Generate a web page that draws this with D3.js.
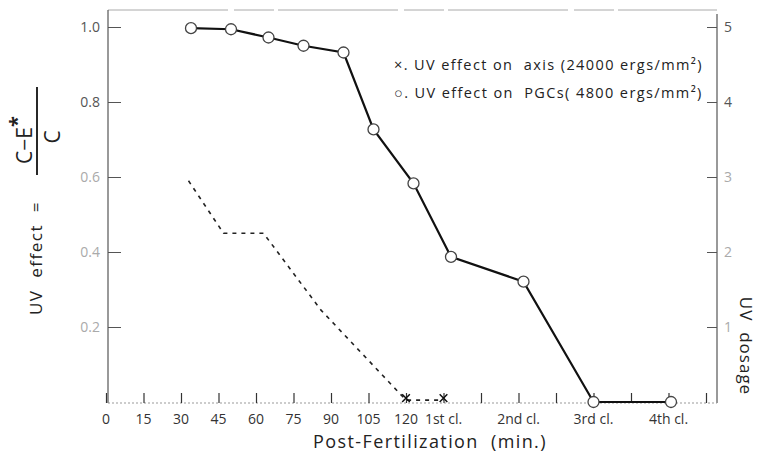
<!DOCTYPE html>
<html>
<head>
<meta charset="utf-8">
<script src="https://cdn.jsdelivr.net/npm/d3@7"></script>
<style>
	body { margin: 0; background: #fff; }
	text { font-family: "Open Sans", "Liberation Sans", sans-serif; fill: #222; white-space: pre; }
	.tick-label { font-size: 14px; fill: #666; }
	.legend-text { font-size: 14.5px; letter-spacing: 1.4px; }
</style>
</head>
<body>
<div id="uvchart"></div>
<script>
// time axis (minutes after fertilization, cleavages placed on the same scale)
var minuteTicks = [0,15,30,45,60,75,90,105,120,135,150,165,180,195,210,225,240];
var labelValues = [0,15,30,45,60,75,90,105,120,135,165,195,225];
var labelTexts  = ["0","15","30","45","60","75","90","105","120","1st cl.","2nd cl.","3rd cl.","4th cl."];

// left axis (UV effect) and right axis (UV dosage)
var effectTicks = [0.2,0.4,0.6,0.8,1.0];
var effectLabels = ["0.2","0.4","0.6","0.8","1.0"];
var doseTicks = [1,2,3,4,5];

// UV effect on PGCs (circles, solid)
var pgcTime   = [34,50,65,79,95,107,123,138,167,195,226];
var pgcEffect = [0.997,0.994,0.972,0.950,0.932,0.727,0.583,0.387,0.321,0,0];

// UV effect on axis (crosses, dashed)
var axisTime   = [33,47,63,86,120,135];
var axisEffect = [0.59,0.45,0.45,0.245,0.005,0.005];

uvchart();

function uvchart() {
	var svg = d3.select("#uvchart")
		.append("svg")
		.attr("width", 769)
		.attr("height", 458);

	var left = 108, right = 717, top = 10, bottom = 403;

	var xScale = d3.scaleLinear().domain([0, 240]).range([106, 706]);
	var yScale = d3.scaleLinear().domain([0, 1]).range([402, 27]);
	var y2Scale = d3.scaleLinear().domain([0, 5]).range([402, 27]);

	// frame
	svg.append("line")
		.attr("x1", left).attr("x2", right).attr("y1", top).attr("y2", top)
		.style("stroke", "#aaa").style("stroke-width", 1)
		.style("stroke-dasharray", "120,6,40,4");
	svg.append("line")
		.attr("x1", left).attr("x2", left).attr("y1", top).attr("y2", bottom)
		.style("stroke", "#555").style("stroke-width", 1.2);
	svg.append("line")
		.attr("x1", right).attr("x2", right).attr("y1", top + 4).attr("y2", bottom)
		.style("stroke", "#555").style("stroke-width", 1.2);
	svg.append("line")
		.attr("x1", left).attr("x2", right).attr("y1", bottom).attr("y2", bottom)
		.style("stroke", "#999").style("stroke-width", 1)
		.style("stroke-dasharray", "2,2");

	// x ticks (pointing up into the plot)
	var xAxis = d3.axisTop(xScale)
		.tickValues(minuteTicks)
		.tickSize(10)
		.tickFormat("");
	var gx = svg.append("g")
		.attr("transform", "translate(0," + bottom + ")")
		.call(xAxis);
	gx.select(".domain").remove();
	gx.selectAll(".tick line").style("stroke", "#333").style("stroke-width", 1.2);

	// x tick labels
	svg.selectAll(".xlabel")
		.data(labelValues)
		.enter().append("text")
		.attr("class", "tick-label")
		.attr("x", function(d) { return xScale(d); })
		.attr("y", 424)
		.style("text-anchor", "middle")
		.style("fill", "#333")
		.text(function(d, i) { return labelTexts[i]; });

	// left ticks (pointing right)
	var yAxis = d3.axisRight(yScale)
		.tickValues(effectTicks)
		.tickSize(13)
		.tickFormat("");
	var gy = svg.append("g")
		.attr("transform", "translate(" + left + ",0)")
		.call(yAxis);
	gy.select(".domain").remove();
	gy.selectAll(".tick line").style("stroke", "#555");

	svg.selectAll(".ylabel")
		.data(effectTicks)
		.enter().append("text")
		.attr("class", "tick-label")
		.attr("x", 100)
		.attr("y", function(d) { return yScale(d); })
		.attr("dy", ".35em")
		.style("text-anchor", "end")
		.style("fill", function(d) { return d > 0.7 ? "#555" : "#aaa"; })
		.text(function(d, i) { return effectLabels[i]; });

	// right ticks (pointing left)
	var y2Axis = d3.axisLeft(y2Scale)
		.tickValues(doseTicks)
		.tickSize(10)
		.tickFormat("");
	var gy2 = svg.append("g")
		.attr("transform", "translate(" + right + ",0)")
		.call(y2Axis);
	gy2.select(".domain").remove();
	gy2.selectAll(".tick line").style("stroke", "#555");

	svg.selectAll(".y2label")
		.data(doseTicks)
		.enter().append("text")
		.attr("class", "tick-label")
		.attr("x", 724)
		.attr("y", function(d) { return y2Scale(d); })
		.attr("dy", ".35em")
		.style("fill", function(d) { return d > 3.5 ? "#555" : "#aaa"; })
		.text(function(d) { return d; });

	// axis series (dashed)
	var axisPts = axisTime.map(function(t, i) { return [t, axisEffect[i]]; });
	var line = d3.line()
		.x(function(d) { return xScale(d[0]); })
		.y(function(d) { return yScale(d[1]); });

	svg.append("path")
		.datum(axisPts)
		.attr("d", line)
		.style("fill", "none")
		.style("stroke", "#222")
		.style("stroke-width", 1.6)
		.style("stroke-dasharray", "4,5");

	svg.selectAll(".cross")
		.data(axisPts.filter(function(d) { return d[1] < 0.05; }))
		.enter().append("path")
		.attr("class", "cross")
		.attr("transform", function(d) { return "translate(" + xScale(d[0]) + "," + (yScale(d[1]) - 2) + ")"; })
		.attr("d", d3.symbol().type(d3.symbolX).size(40))
		.style("stroke", "#111")
		.style("stroke-width", 1.5);

	// PGC series (solid with open circles)
	var pgcPts = pgcTime.map(function(t, i) { return [t, pgcEffect[i]]; });
	svg.append("path")
		.datum(pgcPts)
		.attr("d", line)
		.style("fill", "none")
		.style("stroke", "#111")
		.style("stroke-width", 2.2);

	svg.selectAll(".pgc")
		.data(pgcPts)
		.enter().append("circle")
		.attr("class", "pgc")
		.attr("cx", function(d) { return xScale(d[0]); })
		.attr("cy", function(d) { return yScale(d[1]); })
		.attr("r", 5.5)
		.style("fill", "#fff")
		.style("stroke", "#444")
		.style("stroke-width", 1.3);

	// legend
	svg.append("text")
		.attr("class", "legend-text")
		.attr("x", 394)
		.attr("y", 70)
		.text("×. UV effect on  axis (24000 ergs/mm²)");
	svg.append("text")
		.attr("class", "legend-text")
		.attr("x", 394)
		.attr("y", 98)
		.text("○. UV effect on  PGCs( 4800 ergs/mm²)");

	// x axis title
	svg.append("text")
		.attr("x", 430)
		.attr("y", 448)
		.style("text-anchor", "middle")
		.style("font-size", "18px")
		.style("letter-spacing", "1.4px")
		.text("Post-Fertilization  (min.)");

	// left axis title: UV effect = (C - E*) / C
	svg.append("text")
		.attr("transform", "translate(42,258) rotate(-90)")
		.style("text-anchor", "middle")
		.style("font-size", "17px")
		.style("letter-spacing", "1.5px")
		.text("UV  effect  =");

	var num = svg.append("text")
		.attr("transform", "translate(32,140) rotate(-90)")
		.style("text-anchor", "middle")
		.style("font-size", "21px");
	num.append("tspan").text("C−E");
	num.append("tspan")
		.attr("dy", -8)
		.style("font-size", "20px")
		.style("font-weight", "bold")
		.text("*");

	svg.append("line")
		.attr("x1", 37).attr("x2", 37)
		.attr("y1", 87).attr("y2", 175)
		.style("stroke", "#111").style("stroke-width", 1.8);

	svg.append("text")
		.attr("transform", "translate(60,137) rotate(-90)")
		.style("text-anchor", "middle")
		.style("font-size", "21px")
		.text("C");

	// right axis title
	svg.append("text")
		.attr("transform", "translate(740,346) rotate(90)")
		.style("text-anchor", "middle")
		.style("font-size", "17px")
		.style("letter-spacing", "1px")
		.text("UV  dosage");
}
</script>
</body>
</html>
